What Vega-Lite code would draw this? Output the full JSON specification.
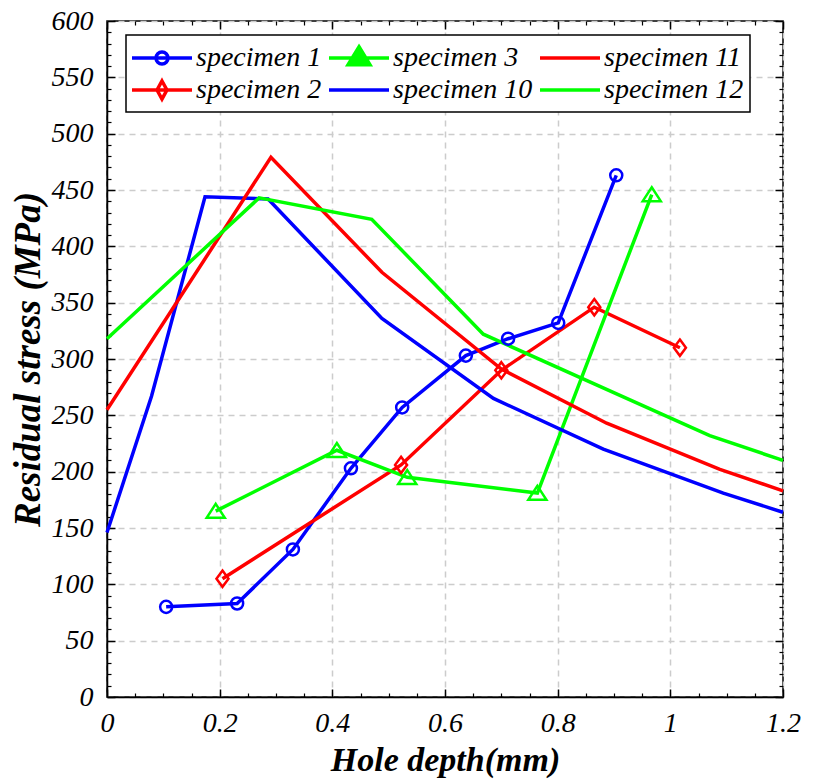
{
  "$schema": "https://vega.github.io/schema/vega-lite/v6.json",
  "width": 676,
  "height": 676,
  "autosize": "none",
  "padding": {"left": 107, "top": 21, "right": 33, "bottom": 86},
  "background": "white",
  "config": {"view": {"stroke": "black", "strokeWidth": 1.5}, "font": "Liberation Serif"},
  "datasets": {
    "d": [
      {"specimen": "specimen 1", "depth": 0.105, "stress": 80},
      {"specimen": "specimen 1", "depth": 0.231, "stress": 83},
      {"specimen": "specimen 1", "depth": 0.330, "stress": 131},
      {"specimen": "specimen 1", "depth": 0.433, "stress": 203},
      {"specimen": "specimen 1", "depth": 0.524, "stress": 257},
      {"specimen": "specimen 1", "depth": 0.637, "stress": 303},
      {"specimen": "specimen 1", "depth": 0.712, "stress": 318},
      {"specimen": "specimen 1", "depth": 0.801, "stress": 332},
      {"specimen": "specimen 1", "depth": 0.904, "stress": 463},
      {"specimen": "specimen 2", "depth": 0.205, "stress": 105},
      {"specimen": "specimen 2", "depth": 0.522, "stress": 206},
      {"specimen": "specimen 2", "depth": 0.700, "stress": 290},
      {"specimen": "specimen 2", "depth": 0.865, "stress": 346},
      {"specimen": "specimen 2", "depth": 1.017, "stress": 310},
      {"specimen": "specimen 3", "depth": 0.193, "stress": 165},
      {"specimen": "specimen 3", "depth": 0.408, "stress": 219},
      {"specimen": "specimen 3", "depth": 0.533, "stress": 195},
      {"specimen": "specimen 3", "depth": 0.764, "stress": 181},
      {"specimen": "specimen 3", "depth": 0.967, "stress": 446},
      {"specimen": "specimen 10", "depth": 0, "stress": 146},
      {"specimen": "specimen 10", "depth": 0.079, "stress": 267},
      {"specimen": "specimen 10", "depth": 0.174, "stress": 444},
      {"specimen": "specimen 10", "depth": 0.286, "stress": 442},
      {"specimen": "specimen 10", "depth": 0.488, "stress": 336},
      {"specimen": "specimen 10", "depth": 0.686, "stress": 265},
      {"specimen": "specimen 10", "depth": 0.881, "stress": 220},
      {"specimen": "specimen 10", "depth": 1.094, "stress": 181},
      {"specimen": "specimen 10", "depth": 1.2, "stress": 164},
      {"specimen": "specimen 11", "depth": 0, "stress": 255},
      {"specimen": "specimen 11", "depth": 0.291, "stress": 479},
      {"specimen": "specimen 11", "depth": 0.488, "stress": 377},
      {"specimen": "specimen 11", "depth": 0.700, "stress": 291},
      {"specimen": "specimen 11", "depth": 0.887, "stress": 243},
      {"specimen": "specimen 11", "depth": 1.088, "stress": 202},
      {"specimen": "specimen 11", "depth": 1.2, "stress": 183},
      {"specimen": "specimen 12", "depth": 0, "stress": 318},
      {"specimen": "specimen 12", "depth": 0.270, "stress": 443},
      {"specimen": "specimen 12", "depth": 0.470, "stress": 424},
      {"specimen": "specimen 12", "depth": 0.668, "stress": 322},
      {"specimen": "specimen 12", "depth": 1.070, "stress": 232},
      {"specimen": "specimen 12", "depth": 1.2, "stress": 210}
    ]
  },
  "data": {"name": "d"},
  "resolve": {"axis": {"x": "independent", "y": "independent"}},
  "layer": [
    {
      "mark": {"type": "line", "strokeWidth": 3.5},
      "encoding": {
        "x": {
          "field": "depth", "type": "quantitative",
          "scale": {"domain": [0, 1.2], "nice": false, "zero": false},
          "axis": {
            "orient": "bottom", "values": [0, 0.2, 0.4, 0.6, 0.8, 1, 1.2], "format": "~g",
            "title": "Hole depth(mm)", "grid": true, "gridDash": [6, 5], "gridColor": "#cccccc", "gridWidth": 1.5,
            "tickSize": -8, "tickColor": "black", "tickWidth": 1.5,
            "domainColor": "black", "domainWidth": 1.5,
            "labelFont": "Liberation Serif", "labelFontStyle": "italic", "labelFontSize": 28, "labelColor": "black",
            "labelPadding": 20, "labelFlush": false,
            "titleFont": "Liberation Serif", "titleFontStyle": "italic", "titleFontWeight": "bold", "titleFontSize": 34,
            "titleColor": "black", "titlePadding": 6
          }
        },
        "y": {
          "field": "stress", "type": "quantitative",
          "scale": {"domain": [0, 600], "nice": false, "zero": false},
          "axis": {
            "orient": "left", "values": [0, 50, 100, 150, 200, 250, 300, 350, 400, 450, 500, 550, 600],
            "title": "Residual stress (MPa)", "grid": true, "gridDash": [6, 5], "gridColor": "#cccccc", "gridWidth": 1.5,
            "tickSize": -8, "tickColor": "black", "tickWidth": 1.5,
            "domainColor": "black", "domainWidth": 1.5,
            "labelFont": "Liberation Serif", "labelFontStyle": "italic", "labelFontSize": 28, "labelColor": "black",
            "labelPadding": 22, "labelFlush": false,
            "titleFont": "Liberation Serif", "titleFontStyle": "italic", "titleFontWeight": "bold", "titleFontSize": 37,
            "titleColor": "black", "titlePadding": 4
          }
        },
        "color": {
          "field": "specimen", "type": "nominal",
          "scale": {
            "domain": ["specimen 1", "specimen 2", "specimen 3", "specimen 10", "specimen 11", "specimen 12"],
            "range": ["#0000ff", "#ff0000", "#00ff00", "#0000ff", "#ff0000", "#00ff00"]
          },
          "legend": {
            "orient": "none", "legendX": 19, "legendY": 14, "columns": 3, "title": null,
            "symbolSize": 900, "symbolStrokeWidth": 3.5, "symbolOffset": 13,
            "labelFont": "Liberation Serif", "labelFontStyle": "italic", "labelFontSize": 28, "labelColor": "black",
            "labelLimit": 400, "labelOffset": 17,
            "strokeColor": "black", "fillColor": "white", "padding": 6, "columnPadding": 0, "rowPadding": 1,
            "encode": {
              "legend": {"update": {"strokeWidth": {"value": 1.5}}},
              "symbols": {
                "update": {
                  "shape": {"signal": "datum.value === 'specimen 1' ? 'M-2,0L2,0M0.4,0A0.4,0.4 0 1,1 -0.4,0A0.4,0.4 0 1,1 0.4,0' : datum.value === 'specimen 2' ? 'M-2,0L2,0M0,-0.6L0.33,0L0,0.6L-0.33,0Z' : datum.value === 'specimen 3' ? 'M-2,0L2,0M0,-0.75L0.73,0.45L-0.73,0.45Z' : 'M-2,0L2,0'"},
                  "fill": {"signal": "datum.value === 'specimen 3' ? '#00ff00' : 'transparent'"}
                }
              }
            }
          }
        }
      }
    },
    {
      "transform": [{"filter": "indexof(['specimen 1','specimen 2','specimen 3'], datum.specimen) >= 0"}],
      "mark": {"type": "point", "filled": false, "strokeWidth": 2.5, "opacity": 1},
      "encoding": {
        "x": {"field": "depth", "type": "quantitative",
          "axis": {"orient": "top", "values": [0, 0.2, 0.4, 0.6, 0.8, 1, 1.2], "labels": false, "title": null, "grid": false, "domain": false, "tickSize": -8, "tickColor": "black", "tickWidth": 1.5}},
        "y": {"field": "stress", "type": "quantitative",
          "axis": {"orient": "right", "values": [0, 50, 100, 150, 200, 250, 300, 350, 400, 450, 500, 550, 600], "labels": false, "title": null, "grid": false, "domain": false, "tickSize": -8, "tickColor": "black", "tickWidth": 1.5}},
        "color": {"field": "specimen", "type": "nominal"},
        "shape": {"field": "specimen", "type": "nominal", "legend": null,
          "scale": {"domain": ["specimen 1", "specimen 2", "specimen 3"], "range": ["circle", "M0,-1.35L1.0,0L0,1.35L-1.0,0Z", "M0,-1.2L1.5,1.1L-1.5,1.1Z"]}},
        "size": {"value": 145}
      }
    },
    {
      "mark": {"type": "point", "opacity": 0},
      "encoding": {
        "x": {"field": "depth", "type": "quantitative",
          "axis": {"orient": "bottom", "values": [0.05, 0.1, 0.15, 0.25, 0.3, 0.35, 0.45, 0.5, 0.55, 0.65, 0.7, 0.75, 0.85, 0.9, 0.95, 1.05, 1.1, 1.15], "labels": false, "title": null, "grid": false, "domain": false, "tickSize": -4, "tickColor": "black", "tickWidth": 1.2}},
        "y": {"field": "stress", "type": "quantitative",
          "axis": {"orient": "left", "values": [10,20,30,40,60,70,80,90,110,120,130,140,160,170,180,190,210,220,230,240,260,270,280,290,310,320,330,340,360,370,380,390,410,420,430,440,460,470,480,490,510,520,530,540,560,570,580,590], "labels": false, "title": null, "grid": false, "domain": false, "tickSize": -4, "tickColor": "black", "tickWidth": 1.2}}
      }
    },
    {
      "mark": {"type": "point", "opacity": 0},
      "encoding": {
        "x": {"field": "depth", "type": "quantitative",
          "axis": {"orient": "top", "values": [0.05, 0.1, 0.15, 0.25, 0.3, 0.35, 0.45, 0.5, 0.55, 0.65, 0.7, 0.75, 0.85, 0.9, 0.95, 1.05, 1.1, 1.15], "labels": false, "title": null, "grid": false, "domain": false, "tickSize": -4, "tickColor": "black", "tickWidth": 1.2}},
        "y": {"field": "stress", "type": "quantitative",
          "axis": {"orient": "right", "values": [10,20,30,40,60,70,80,90,110,120,130,140,160,170,180,190,210,220,230,240,260,270,280,290,310,320,330,340,360,370,380,390,410,420,430,440,460,470,480,490,510,520,530,540,560,570,580,590], "labels": false, "title": null, "grid": false, "domain": false, "tickSize": -4, "tickColor": "black", "tickWidth": 1.2}}
      }
    }
  ]
}
